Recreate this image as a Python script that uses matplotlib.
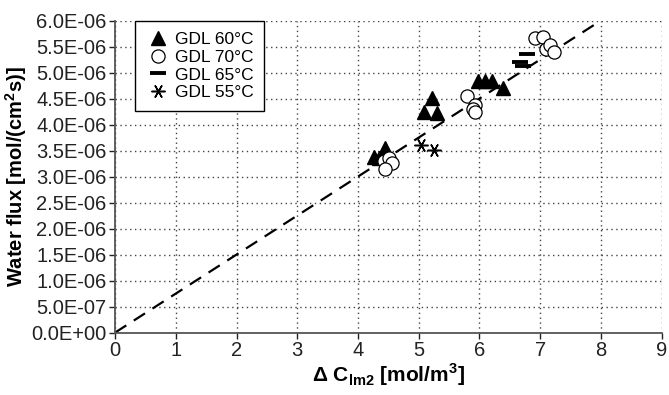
import matplotlib
matplotlib.use("Agg")
import matplotlib.pyplot as plt
from matplotlib.ticker import FormatStrFormatter, MultipleLocator

plt.rcParams['font.family'] = ['Liberation Sans', 'DejaVu Sans']
plt.rcParams['mathtext.fontset'] = 'custom'
plt.rcParams['mathtext.rm'] = 'Liberation Sans'
plt.rcParams['mathtext.bf'] = 'Liberation Sans:bold'

# GDL 60C
x60 = [4.26, 4.34, 4.45, 5.08, 5.22, 5.30, 5.98, 6.09, 6.20, 6.39]
y60 = [3.38e-6, 3.35e-6, 3.55e-6, 4.25e-6, 4.51e-6, 4.22e-6, 4.83e-6, 4.84e-6, 4.84e-6, 4.71e-6]
# GDL 70C
x70 = [4.43, 4.51, 4.56, 4.45, 5.79, 5.93, 5.90, 5.92, 6.91, 7.05, 7.10, 7.16, 7.23]
y70 = [3.29e-6, 3.35e-6, 3.26e-6, 3.14e-6, 4.55e-6, 4.38e-6, 4.30e-6, 4.25e-6, 5.66e-6, 5.69e-6, 5.45e-6, 5.53e-6, 5.40e-6]
# GDL 65C
x65 = [6.78, 6.67, 6.72]
y65 = [5.36e-6, 5.21e-6, 5.13e-6]
# GDL 55C
x55 = [5.03, 5.25]
y55 = [3.61e-6, 3.51e-6]
# trend line
xfit = [0, 8]
yfit = [0, 6.0e-6]

fig = plt.figure(figsize=(6.69, 3.95), dpi=100)
ax = fig.add_axes([0.172, 0.158, 0.817, 0.79])

ax.plot(xfit, yfit, color='black', linestyle=(0, (6, 4)), linewidth=1.6, zorder=2)
ax.plot(x60, y60, linestyle='none', marker='^', markersize=9.5, color='black', label='GDL 60°C', zorder=3)
ax.plot(x70, y70, linestyle='none', marker='o', markersize=9.5, markerfacecolor='white',
        markeredgecolor='black', markeredgewidth=0.9, label='GDL 70°C', zorder=3)
ax.plot(x65, y65, linestyle='none', marker='_', markersize=11, markeredgewidth=2.8, color='black',
        label='GDL 65°C', zorder=3)
ax.plot(x55, y55, linestyle='none', marker=(6, 2, 90), markersize=10, markeredgewidth=1.1, color='black',
        label='GDL 55°C', zorder=3)

ax.set_xlim(0, 9)
ax.set_ylim(0, 6.0e-6)
ax.xaxis.set_major_locator(MultipleLocator(1))
ax.yaxis.set_major_locator(MultipleLocator(0.5e-6))
ax.yaxis.set_major_formatter(FormatStrFormatter('%.1E'))

ax.grid(True, color='#444444', linestyle=(0, (1, 2.5)), linewidth=1.0)
ax.set_axisbelow(True)
for s in ['top', 'right']:
    ax.spines[s].set_visible(False)
for s in ['left', 'bottom']:
    ax.spines[s].set_color('#555555')
    ax.spines[s].set_linewidth(1.3)
ax.tick_params(labelsize=14.5, colors='#222222', length=4, width=1, direction='out', pad=2)

ax.set_xlabel('Δ C$_\\mathbf{lm2}$ [mol/m$^\\mathbf{3}$]', fontsize=15, fontweight='bold', labelpad=1)
ax.set_ylabel('Water flux [mol/(cm$^\\mathbf{2}$s)]', fontsize=14.5, fontweight='bold')
ax.yaxis.set_label_coords(-0.157, 0.5)

leg = ax.legend(loc='upper left', bbox_to_anchor=(0.037, 0.997), borderaxespad=0, fontsize=12.5,
                frameon=True, fancybox=False, edgecolor='black', framealpha=1, handlelength=1.4,
                handletextpad=0.3, borderpad=0.6, labelspacing=0.15)
leg.get_frame().set_linewidth(1.0)

fig.savefig('out.png', dpi=100)
